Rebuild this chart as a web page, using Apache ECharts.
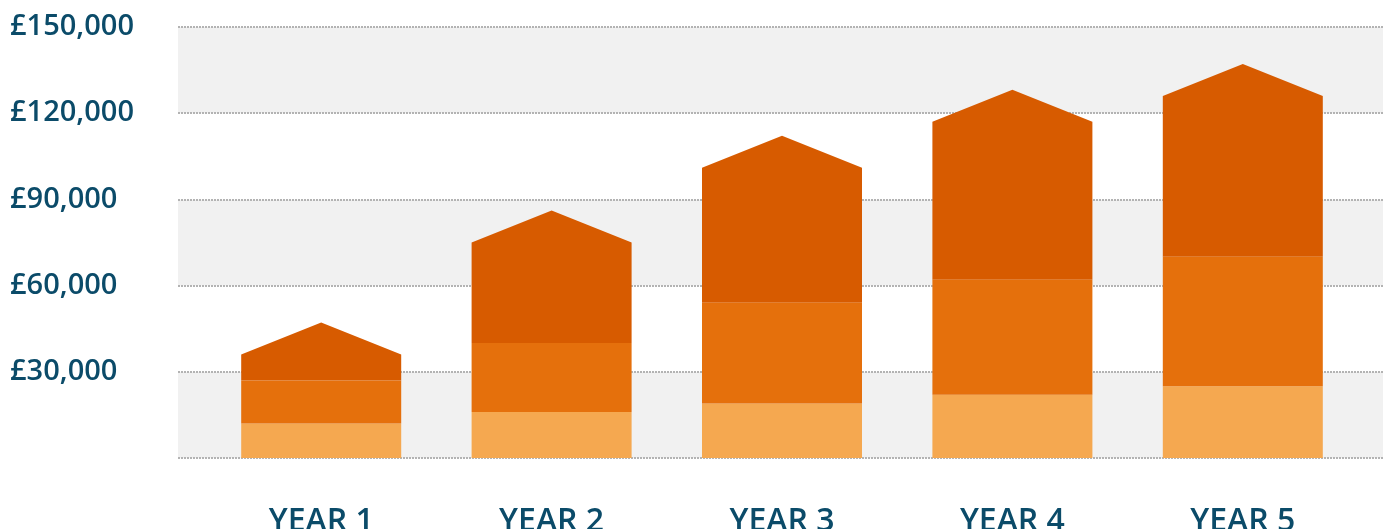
<!DOCTYPE html>
<html>
<head>
<meta charset="utf-8">
<script src="https://cdn.jsdelivr.net/npm/echarts@6/dist/echarts.min.js"></script>
<style>
html,body{margin:0;padding:0;background:#fff;}
#chart{width:1391px;height:529px;}
</style>
</head>
<body>
<div id="chart"></div>
<script>
const categories = ['YEAR 1', 'YEAR 2', 'YEAR 3', 'YEAR 4', 'YEAR 5'];
const lowerValues = [12000, 16000, 19000, 22000, 25000];
const middleValues = [15000, 24000, 35000, 40000, 45000];
const upperValues = [9000, 35000, 47000, 55000, 56000];
const yTicks = [0, 30000, 60000, 90000, 120000, 150000];

const TEXT = '#0b4b69';
const FONT = '"Open Sans", sans-serif';
const yMin = yTicks[0], yMax = yTicks[yTicks.length - 1], yStep = yTicks[1] - yTicks[0];

const upperData = categories.map((c, i) => {
  const base = lowerValues[i] + middleValues[i];
  return [i, base, base + upperValues[i]];
});

const chart = echarts.init(document.getElementById('chart'), null, {renderer: 'canvas'});
chart.setOption({
  animation: false,
  backgroundColor: '#ffffff',
  grid: [
    {left: 178, right: 8, top: 27, bottom: 71, containLabel: false, outerBoundsMode: 'none'},
    {left: 206, right: 33, top: 27, bottom: 71, containLabel: false, outerBoundsMode: 'none'}
  ],
  xAxis: [
    {gridIndex: 0, type: 'value', min: 0, max: 1, show: false},
    {gridIndex: 1, type: 'category', data: categories,
     axisLine: {show: false}, axisTick: {show: false},
     axisLabel: {color: TEXT, fontFamily: FONT, fontWeight: 600, fontSize: 32, lineHeight: 32, margin: 48}}
  ],
  yAxis: [
    {gridIndex: 0, type: 'value', min: yMin, max: yMax, interval: yStep,
     axisLine: {show: false}, axisTick: {show: false},
     axisLabel: {
       color: TEXT, fontFamily: FONT, fontWeight: 600, fontSize: 29,
       align: 'left', margin: 168,
       formatter: v => v === 0 ? '' : '£' + v.toLocaleString('en-GB')
     },
     splitLine: {show: true, lineStyle: {color: '#b3b3b3', width: 2, type: [2, 1]}},
     splitArea: {show: true, areaStyle: {color: ['#f1f1f1', '#ffffff']}}
    },
    {gridIndex: 1, type: 'value', min: yMin, max: yMax, interval: yStep, show: false}
  ],
  series: [
    {type: 'bar', xAxisIndex: 1, yAxisIndex: 1, stack: 'total', barWidth: 160,
     itemStyle: {color: '#f5a850'}, data: lowerValues},
    {type: 'bar', xAxisIndex: 1, yAxisIndex: 1, stack: 'total', barWidth: 160,
     itemStyle: {color: '#e5700c'}, data: middleValues},
    {type: 'custom', xAxisIndex: 1, yAxisIndex: 1,
     data: upperData,
     encode: {x: 0, y: [1, 2]},
     renderItem: function (params, api) {
       const i = api.value(0);
       const b = api.coord([i, api.value(1)]);
       const t = api.coord([i, api.value(2)]);
       const half = 80, roof = 32;
       const x = b[0];
       return {
         type: 'polygon',
         shape: {points: [[x - half, b[1]], [x + half, b[1]], [x + half, t[1]], [x, t[1] - roof], [x - half, t[1]]]},
         style: {fill: '#d75b00'}
       };
     }
    }
  ]
});
</script>
</body>
</html>
